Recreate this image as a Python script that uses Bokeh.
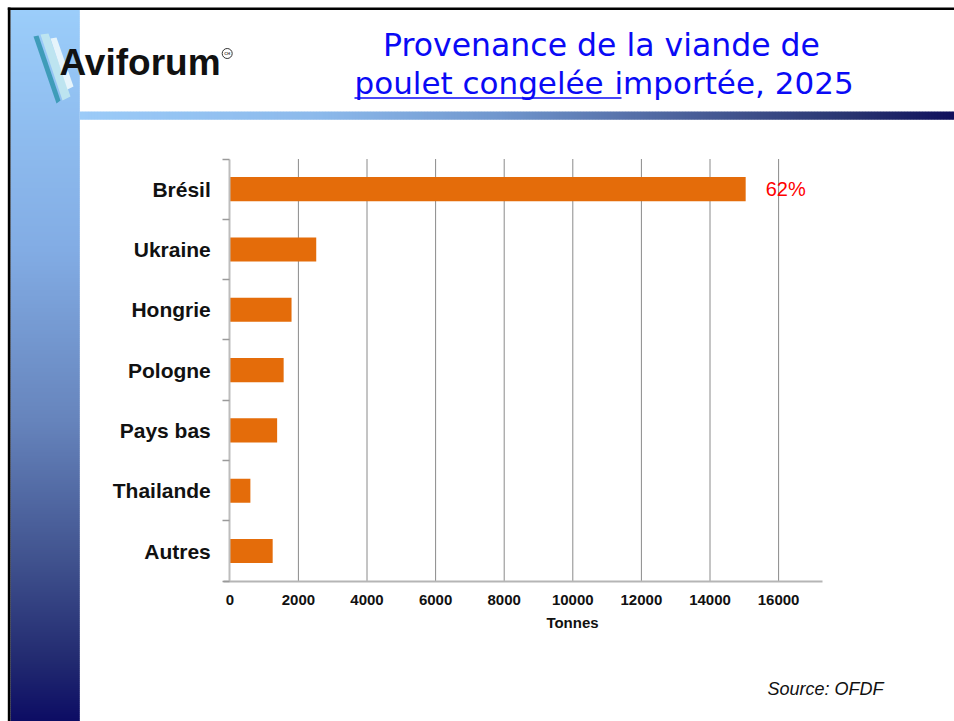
import numpy as np
from bokeh.plotting import figure
from bokeh.models import Range1d, LinearAxis, FixedTicker
from bokeh.core.properties import value
from bokeh.embed import file_html
from bokeh.resources import INLINE

# ---------------- data ----------------
countries = ["Brésil", "Ukraine", "Hongrie", "Pologne", "Pays bas", "Thailande", "Autres"]
tonnes = [15040, 2520, 1800, 1570, 1380, 600, 1250]
share_labels = ["62%"]
x_ticks = [0, 2000, 4000, 6000, 8000, 10000, 12000, 14000, 16000]
x_tick_labels = ["0", "2000", "4000", "6000", "8000", "10000", "12000", "14000", "16000"]
x_axis_title = "Tonnes"
title_line1 = "Provenance de la viande de"
title_line2a = "poulet congelée "
title_line2b = "importée, 2025"
source_text = "Source: OFDF"
logo_text = "Aviforum"

# ---------------- page geometry (page px, figure at 0,0) ----------------
W, H = 954, 721

# chart plot area
PLOT_L = 229.3
PLOT_T = 158.5
ROW = 60.31
PX_PER_T = 68.6 / 2000.0
X_END = 17280
n = len(countries)

t_start = -PLOT_L / PX_PER_T
t_end = (W - PLOT_L) / PX_PER_T
c_start = (H - PLOT_T) / ROW - 0.5
c_end = -PLOT_T / ROW - 0.5

p = figure(width=W, height=H, x_range=Range1d(0, W), y_range=Range1d(H, 0),
           x_axis_type=None, y_axis_type=None, toolbar_location=None,
           output_backend="svg", min_border=0, outline_line_color=None,
           background_fill_color="white", border_fill_color="white")
p.extra_x_ranges = {"t": Range1d(t_start, t_end)}
p.extra_y_ranges = {"c": Range1d(c_start, c_end)}


def interp_colors(pos, stops):
    sp = np.array([s[0] for s in stops], dtype=float)
    out = []
    for q in pos:
        rgb = [int(round(np.interp(q, sp, [s[1][k] for s in stops]))) for k in range(3)]
        out.append("#%02x%02x%02x" % tuple(rgb))
    return out

# ---------------- left gradient strip ----------------
strip_stops = [(10, (155, 205, 250)), (250, (130, 172, 228)), (420, (102, 132, 188)),
               (560, (64, 82, 142)), (660, (34, 42, 112)), (721, (12, 12, 100))]
ys = np.arange(9.5, 721, 2.0)
p.quad(left=10, right=79.3, top=list(ys), bottom=list(ys + 2.2),
       fill_color=interp_colors(ys + 1, strip_stops), line_color=None)

# ---------------- horizontal gradient bar ----------------
bar_stops = [(79, (155, 203, 248)), (320, (140, 185, 235)), (500, (112, 150, 205)),
             (700, (72, 92, 150)), (850, (40, 52, 112)), (954, (16, 16, 92))]
xs = np.arange(79.3, 954, 3.0)
p.quad(left=list(xs), right=list(xs + 3.2), top=111, bottom=119.3,
       fill_color=interp_colors(xs + 1.5, bar_stops), line_color=None)

# ---------------- black border (top / left) ----------------
p.quad(left=7.3, right=W, top=7, bottom=9.6, fill_color="black", line_color=None)
p.quad(left=7.3, right=10, top=7, bottom=H, fill_color="black", line_color=None)

# ---------------- logo ----------------
feather_x = [[33, 38, 60, 56], [40, 48, 70, 62], [50, 56, 73, 67]]
feather_y = [[36, 35, 100, 103], [34, 33, 96, 100], [38, 37, 86, 89]]
p.patches(feather_x, feather_y, fill_color=["#3a9ab5", "#bfe6ef", "#eaf7fb"],
          line_color=None, fill_alpha=0.95)
p.text(x=[59], y=[62], text=[logo_text], text_font=value("Liberation Sans"),
       text_font_style="bold", text_font_size="37px", text_color="#111111",
       text_align="left", text_baseline="middle")
p.scatter(x=[226.7], y=[53], marker="circle", size=10, fill_color=None,
          line_color="#333333", line_width=1)
p.text(x=[226.7], y=[53], text=["CH"], text_font=value("Liberation Sans"),
       text_font_style="bold", text_font_size="4px", text_color="#333333",
       text_align="center", text_baseline="middle")

# ---------------- title ----------------
TITLE_BLUE = "#0a0af5"
p.text(x=[601], y=[44.5], text=[title_line1], text_font=value("DejaVu Sans"),
       text_font_size="31.5px", text_color=TITLE_BLUE, text_align="center",
       text_baseline="middle")
p.text(x=[354], y=[82.2], text=[title_line2a], text_font=value("DejaVu Sans"),
       text_font_size="31px", text_color=TITLE_BLUE, text_align="left",
       text_baseline="middle")
p.text(x=[614], y=[82.2], text=[title_line2b], text_font=value("DejaVu Sans"),
       text_font_size="31px", text_color=TITLE_BLUE, text_align="left",
       text_baseline="middle")
p.segment(x0=[354], y0=[97.5], x1=[621], y1=[97.5],
          line_color=TITLE_BLUE, line_width=1.5)

# ---------------- chart ----------------
p.segment(x0=x_ticks[1:], y0=-0.5, x1=x_ticks[1:], y1=n - 0.5,
          x_range_name="t", y_range_name="c", line_color="#8a8a8a", line_width=1)

p.hbar(y=list(range(n)), left=0, right=tonnes, height=0.4,
       x_range_name="t", y_range_name="c", fill_color="#E46C0A", line_color=None)

p.text(x=[tonnes[0]], y=[0], text=share_labels, x_offset=20,
       x_range_name="t", y_range_name="c", text_font=value("Liberation Sans"),
       text_font_size="20px", text_color="#ff0000", text_align="left",
       text_baseline="middle")

yax = LinearAxis(x_range_name="t", y_range_name="c", fixed_location=0,
                 bounds=(-0.5, n - 0.5),
                 ticker=FixedTicker(ticks=list(range(n)),
                                    minor_ticks=[i - 0.5 for i in range(n + 1)]),
                 major_label_overrides={i: c for i, c in enumerate(countries)})
yax.axis_line_color = "#bdbdbd"
yax.axis_line_width = 2
yax.major_tick_out = 0
yax.major_tick_in = 0
yax.minor_tick_out = 7
yax.minor_tick_in = 0
yax.minor_tick_line_color = "#9a9a9a"
yax.minor_tick_line_width = 1.5
yax.major_label_standoff = 12
yax.major_label_text_font = "Liberation Sans"
yax.major_label_text_font_style = "bold"
yax.major_label_text_font_size = "21px"
yax.major_label_text_color = "#111111"
p.add_layout(yax, "left")

xax = LinearAxis(x_range_name="t", y_range_name="c", fixed_location=n - 0.5,
                 bounds=(-195, X_END), ticker=FixedTicker(ticks=x_ticks),
                 major_label_overrides={t: l for t, l in zip(x_ticks, x_tick_labels)})
xax.axis_line_color = "#b5b5b5"
xax.axis_line_width = 2
xax.major_tick_out = 0
xax.major_tick_in = 0
xax.minor_tick_out = 0
xax.minor_tick_in = 0
xax.major_label_standoff = 14
xax.major_label_text_font = "Liberation Sans"
xax.major_label_text_font_style = "bold"
xax.major_label_text_font_size = "15px"
xax.major_label_text_color = "#111111"
p.add_layout(xax, "below")

p.text(x=[572], y=[622], text=[x_axis_title], text_font=value("Liberation Sans"),
       text_font_style="bold", text_font_size="15px", text_color="#111111",
       text_align="center", text_baseline="middle")

p.text(x=[825], y=[688], text=[source_text], text_font=value("Liberation Sans"),
       text_font_style="italic", text_font_size="18px", text_color="#111111",
       text_align="center", text_baseline="middle")

open("out.html", "w").write(file_html(p, INLINE))
